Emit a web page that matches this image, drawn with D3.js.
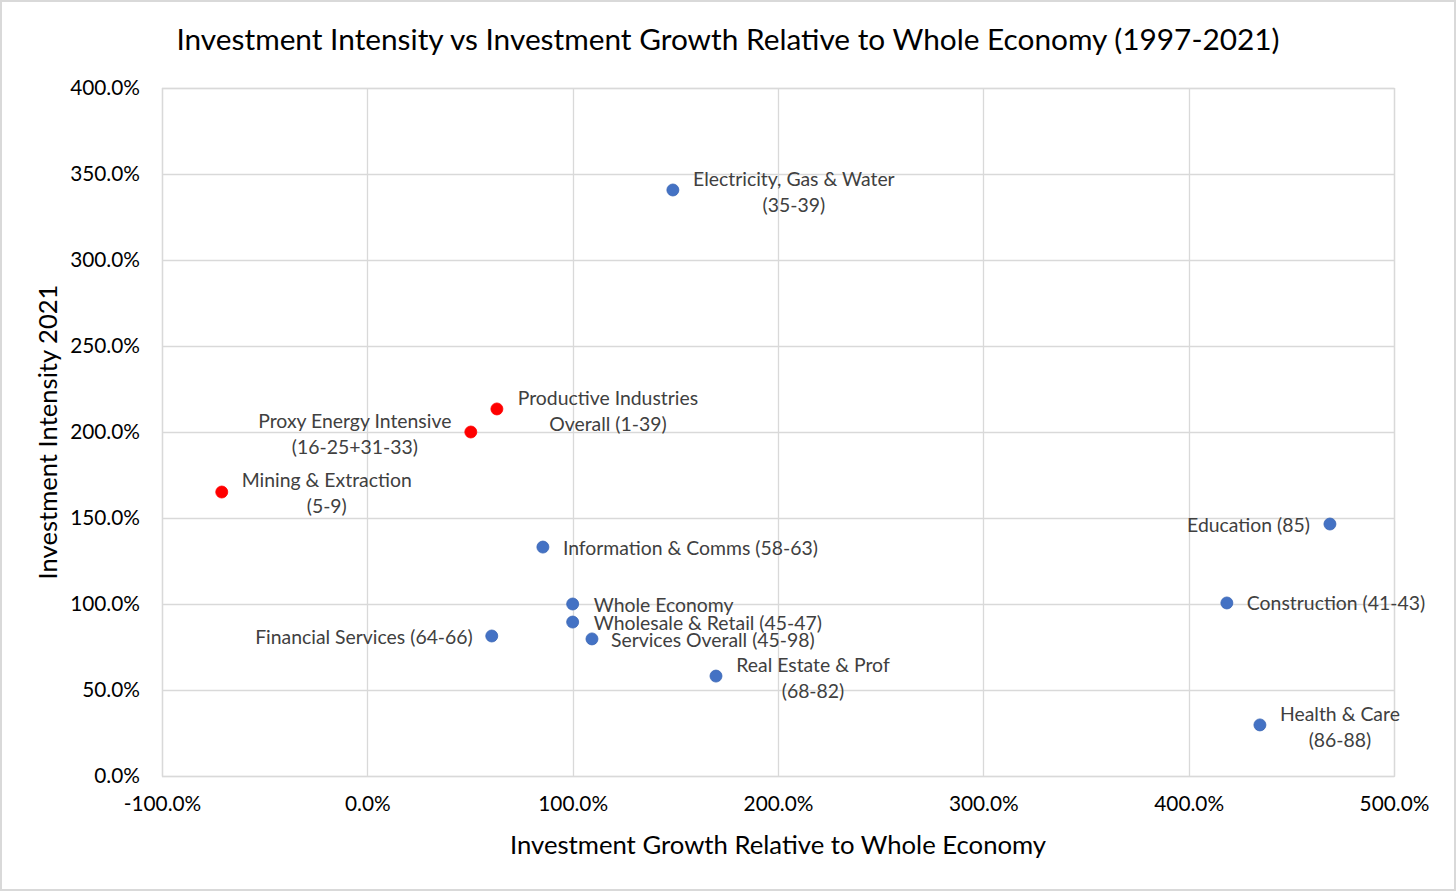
<!DOCTYPE html>
<html>
<head>
<meta charset="utf-8">
<script src="https://cdn.jsdelivr.net/npm/d3@7"></script>
<style>
  html, body { margin: 0; padding: 0; background: #fff; }
  svg text { font-family: Lato, "Noto Sans", sans-serif; }
</style>
</head>
<body>
<svg id="chart"></svg>
<script>
// data (fractions: 1 = 100%)
var names = [
    "Electricity, Gas & Water|(35-39)",
    "Productive Industries|Overall (1-39)",
    "Proxy Energy Intensive|(16-25+31-33)",
    "Mining & Extraction|(5-9)",
    "Information & Comms (58-63)",
    "Whole Economy",
    "Wholesale & Retail (45-47)",
    "Services Overall (45-98)",
    "Financial Services (64-66)",
    "Real Estate & Prof|(68-82)",
    "Education (85)",
    "Construction (41-43)",
    "Health & Care|(86-88)"
];
var growth = [1.488, 0.631, 0.504, -0.709, 0.855, 1.0, 1.0, 1.094, 0.606, 1.698, 4.688, 4.186, 4.347];
var intensity = [3.407, 2.134, 2.0, 1.651, 1.331, 1.0, 0.895, 0.797, 0.814, 0.581, 1.465, 1.006, 0.297];
var group = ["other", "energy", "energy", "energy", "other", "other", "other", "other", "other", "other", "other", "other", "other"];

var xTicks = [-1, 0, 1, 2, 3, 4, 5];
var yTicks = [0, 0.5, 1, 1.5, 2, 2.5, 3, 3.5, 4];

// label placement relative to each point: [dx, dy, anchor]
var labelPos = [
    [121, -11, "middle"],
    [111, -11, "middle"],
    [-116, -11, "middle"],
    [105, -12, "middle"],
    [20, 1, "start"],
    [21, 1, "start"],
    [21, 1, "start"],
    [19, 1, "start"],
    [-19, 1, "end"],
    [97, -11, "middle"],
    [-20, 1, "end"],
    [20, 0, "start"],
    [80, -11, "middle"]
];

var svgWidth = 1456, svgHeight = 891;
var margin = { top: 88, right: 62, bottom: 115, left: 162 };
var width = svgWidth - margin.left - margin.right;
var height = svgHeight - margin.top - margin.bottom;

var svg = d3.select("#chart")
    .attr("width", svgWidth)
    .attr("height", svgHeight);

// outer frame
svg.append("rect")
    .attr("x", 1).attr("y", 1)
    .attr("width", svgWidth - 2).attr("height", svgHeight - 2)
    .attr("fill", "#fff")
    .attr("stroke", "#d9d9d9")
    .attr("stroke-width", 2);

svg.append("text")
    .attr("x", svgWidth / 2)
    .attr("y", 50)
    .attr("text-anchor", "middle")
    .attr("font-size", 29.8)
    .attr("fill", "#000")
    .text("Investment Intensity vs Investment Growth Relative to Whole Economy (1997-2021)");

var g = svg.append("g")
    .attr("transform", "translate(" + margin.left + "," + margin.top + ")");

var x = d3.scaleLinear().domain([-1, 5]).range([0, width]);
var y = d3.scaleLinear().domain([0, 4]).range([height, 0]);
var fmt = function (d) { return (d * 100).toFixed(1) + "%"; };

// gridlines
g.append("g")
    .selectAll("line")
    .data(xTicks)
    .join("line")
    .attr("x1", function (d) { return Math.round(x(d)) + 0.5; })
    .attr("x2", function (d) { return Math.round(x(d)) + 0.5; })
    .attr("y1", 0).attr("y2", height)
    .attr("stroke", "#d9d9d9").attr("stroke-width", 1.3);

g.append("g")
    .selectAll("line")
    .data(yTicks)
    .join("line")
    .attr("y1", function (d) { return Math.round(y(d)) + 0.5; })
    .attr("y2", function (d) { return Math.round(y(d)) + 0.5; })
    .attr("x1", 0).attr("x2", width)
    .attr("stroke", "#d9d9d9").attr("stroke-width", 1.3);

// plot border
g.append("rect")
    .attr("x", 0.5).attr("y", 0.5)
    .attr("width", width).attr("height", height)
    .attr("fill", "none")
    .attr("stroke", "#d9d9d9").attr("stroke-width", 1.3);

// axes (labels only)
var xAxis = g.append("g")
    .attr("transform", "translate(0," + height + ")")
    .call(d3.axisBottom(x).tickValues(xTicks).tickFormat(fmt).tickSize(0).tickPadding(20));
xAxis.select(".domain").remove();
xAxis.selectAll("text").attr("font-size", 20.8).attr("fill", "#000")
    .style("font-family", "Lato, 'Noto Sans', sans-serif");

var yAxis = g.append("g")
    .call(d3.axisLeft(y).tickValues(yTicks).tickFormat(fmt).tickSize(0).tickPadding(22));
yAxis.select(".domain").remove();
yAxis.selectAll("text").attr("font-size", 20.8).attr("fill", "#000")
    .style("font-family", "Lato, 'Noto Sans', sans-serif");

// axis titles
svg.append("text")
    .attr("x", margin.left + width / 2)
    .attr("y", 854)
    .attr("text-anchor", "middle")
    .attr("font-size", 25.7)
    .attr("fill", "#000")
    .text("Investment Growth Relative to Whole Economy");

svg.append("text")
    .attr("transform", "translate(57," + (margin.top + 344) + ") rotate(-90)")
    .attr("text-anchor", "middle")
    .attr("font-size", 25.6)
    .attr("fill", "#000")
    .text("Investment Intensity 2021");

// points
var idx = d3.range(names.length);
var color = d3.scaleOrdinal().domain(["other", "energy"]).range(["#4472c4", "#ff0000"]);

g.append("g")
    .selectAll("circle")
    .data(idx)
    .join("circle")
    .attr("cx", function (i) { return x(growth[i]); })
    .attr("cy", function (i) { return y(intensity[i]); })
    .attr("r", 6)
    .attr("fill", function (i) { return color(group[i]); })
    .attr("stroke", function (i) { return group[i] === "energy" ? "#ff0000" : "#3a66b5"; })
    .attr("stroke-width", 0.8);

// labels
var labels = g.append("g")
    .selectAll("text")
    .data(idx)
    .join("text")
    .attr("x", function (i) { return x(growth[i]) + labelPos[i][0]; })
    .attr("y", function (i) { return y(intensity[i]) + labelPos[i][1]; })
    .attr("text-anchor", function (i) { return labelPos[i][2]; })
    .attr("font-size", 19.4)
    .attr("fill", "#404040");

labels.each(function (i) {
    var t = d3.select(this);
    var lines = names[i].split("|");
    lines.forEach(function (line, k) {
        t.append("tspan")
            .attr("x", x(growth[i]) + labelPos[i][0])
            .attr("dy", k === 0 ? "0.35em" : 26)
            .text(line);
    });
});
</script>
</body>
</html>
